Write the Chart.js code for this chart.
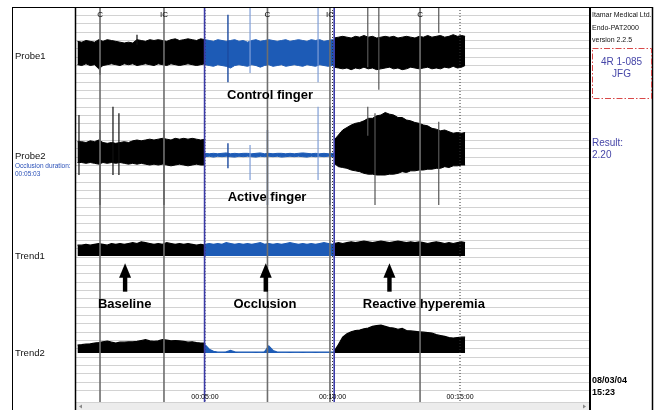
<!DOCTYPE html>
<html>
<head>
<meta charset="utf-8">
<script src="https://cdn.jsdelivr.net/npm/chart.js@4.4.1/dist/chart.umd.min.js"></script>
<style>
  html, body { margin: 0; padding: 0; background: #fff; }
  canvas { display: block; }
</style>
</head>
<body>
<canvas id="pat" width="655" height="410"></canvas>
<script>
// sample times in seconds for the three phases of the test
const baseT = [0,10,20,30,40,50,60,70,80,90,100,110,120,130,140,150,160,170,180,190,200,210,220,230,240,250,260,270,280,290,300];
const occT = [300,310,320,330,340,350,360,370,380,390,400,410,420,430,440,450,460,470,480,490,500,510,520,530,540,550,560,570,580,590,600,604];
const postT = [604,614,624,634,644,654,664,674,684,694,704,714,724,734,744,754,764,774,784,794,804,814,824,834,844,854,864,874,884,894,904,912];

// signal envelopes, in grid divisions around each channel line
const probe1BaseHi = [1.4,1.3,1.5,1.4,1.3,1.6,1.4,1.6,1.5,1.4,1.3,1.2,1.3,1.2,1.6,1.5,1.4,1.6,1.5,1.6,1.5,1.4,1.6,1.7,1.5,1.6,1.7,1.6,1.5,1.7,1.6];
const probe1BaseLo = [-1.4,-1.5,-1.3,-1.5,-1.4,-1.9,-1.5,-1.4,-1.3,-1.4,-1.5,-1.3,-1.4,-1.3,-1.5,-1.4,-1.3,-1.4,-1.5,-1.3,-1.4,-1.5,-1.3,-1.4,-1.5,-1.4,-1.3,-1.4,-1.5,-1.4,-1.3];
const probe1OccHi = [1.6,1.5,1.4,1.6,1.5,1.4,1.5,1.6,1.4,1.5,1.3,1.5,1.6,1.4,1.5,1.6,1.5,1.4,1.5,1.6,1.4,1.5,1.6,1.5,1.4,1.6,1.5,1.6,1.4,1.5,1.6,1.5];
const probe1OccLo = [-1.4,-1.5,-1.6,-1.4,-1.5,-1.6,-1.8,-1.5,-1.4,-1.5,-1.6,-1.4,-1.5,-1.7,-1.5,-1.4,-1.6,-1.5,-1.4,-1.6,-1.5,-1.4,-1.5,-1.6,-1.4,-1.5,-1.6,-1.4,-1.5,-1.6,-1.5,-1.6];
const probe1PostHi = [1.8,1.9,2.0,1.9,1.8,2.0,1.9,2.1,1.9,2.0,1.8,1.9,2.0,1.9,2.0,1.8,1.9,2.0,1.9,1.8,2.0,1.9,2.1,1.9,2.0,2.1,1.9,2.0,2.2,2.0,2.1,2.0];
const probe1PostLo = [-1.7,-1.8,-1.9,-1.8,-2.0,-1.8,-1.9,-1.7,-1.9,-1.8,-2.0,-1.9,-1.8,-1.7,-1.9,-1.8,-2.0,-1.9,-1.7,-1.8,-1.9,-1.8,-1.7,-1.9,-1.8,-1.9,-1.7,-1.8,-1.6,-1.8,-1.7,-1.5];

const probe2BaseHi = [1.3,1.3,1.2,1.4,1.3,1.5,1.2,1.1,1.2,1.1,1.2,1.3,1.2,1.4,1.5,1.4,1.5,1.6,1.5,1.6,1.7,1.6,1.5,1.7,1.6,1.7,1.6,1.7,1.6,1.5,1.6];
const probe2BaseLo = [-1.2,-1.2,-1.3,-1.2,-1.3,-1.4,-1.2,-1.3,-1.2,-1.3,-1.2,-1.3,-1.4,-1.3,-1.4,-1.3,-1.4,-1.5,-1.4,-1.5,-1.4,-1.5,-1.6,-1.5,-1.4,-1.5,-1.6,-1.5,-1.4,-1.5,-1.5];
const probe2OccHi = [-0.1,-0.15,-0.1,-0.15,-0.1,-0.05,-0.15,-0.1,-0.15,-0.1,-0.1,-0.15,-0.1,-0.05,-0.15,-0.1,-0.15,-0.1,-0.1,-0.15,-0.1,-0.15,-0.1,-0.05,-0.1,-0.15,-0.1,-0.15,-0.1,-0.15,-0.1,-0.1];
const probe2OccLo = [-0.5,-0.45,-0.55,-0.45,-0.5,-0.45,-0.5,-0.55,-0.45,-0.5,-0.45,-0.5,-0.55,-0.45,-0.5,-0.45,-0.5,-0.45,-0.55,-0.5,-0.45,-0.5,-0.45,-0.5,-0.55,-0.45,-0.5,-0.45,-0.5,-0.45,-0.5,-0.45];
const probe2PostHi = [1.5,2.1,2.7,3.0,3.3,3.5,3.6,3.8,4.1,4.1,4.4,4.5,4.8,4.6,4.5,4.2,4.2,3.9,3.8,3.6,3.5,3.3,3.2,2.9,2.8,2.6,2.7,2.5,2.3,2.4,2.3,2.4];
const probe2PostLo = [-1.3,-1.7,-1.8,-1.9,-2.1,-2.2,-2.3,-2.5,-2.6,-2.6,-2.7,-2.7,-2.7,-2.6,-2.6,-2.5,-2.3,-2.4,-2.2,-2.2,-2.1,-2.1,-2.0,-2.0,-1.9,-1.9,-1.7,-1.8,-1.6,-1.6,-1.5,-1.5];

const trend1Base = [1.3,1.3,1.4,1.3,1.4,1.5,1.4,1.3,1.5,1.4,1.5,1.4,1.5,1.6,1.5,1.7,1.6,1.5,1.4,1.5,1.4,1.6,1.5,1.4,1.5,1.4,1.5,1.4,1.3,1.4,1.3];
const trend1Occ = [1.4,1.5,1.4,1.5,1.4,1.6,1.5,1.4,1.5,1.4,1.5,1.4,1.5,1.6,1.4,1.5,1.4,1.5,1.4,1.5,1.6,1.5,1.4,1.5,1.4,1.5,1.4,1.5,1.6,1.5,1.4,1.5];
const trend1Post = [1.5,1.6,1.5,1.6,1.7,1.6,1.7,1.8,1.7,1.6,1.7,1.8,1.7,1.6,1.7,1.8,1.7,1.6,1.7,1.6,1.7,1.6,1.5,1.6,1.7,1.6,1.5,1.6,1.5,1.6,1.7,1.6];

const trend2Base = [0.96,1.0,1.08,1.1,1.2,1.25,1.35,1.44,1.3,1.2,1.3,1.3,1.35,1.35,1.4,1.5,1.6,1.45,1.4,1.45,1.6,1.55,1.45,1.5,1.45,1.4,1.3,1.35,1.25,1.2,1.2];
const trend2Occ = [1.0,0.45,0.2,0.1,0.1,0.15,0.3,0.15,0.1,0.1,0.1,0.1,0.12,0.1,0.15,0.85,0.3,0.12,0.1,0.1,0.12,0.1,0.1,0.12,0.1,0.1,0.12,0.1,0.1,0.1,0.1,0.1];
const trend2Post = [0.2,1.0,1.9,2.3,2.55,2.7,2.75,2.9,3.0,3.2,3.3,3.35,3.2,3.05,3.0,2.85,2.95,2.7,2.65,2.6,2.55,2.5,2.45,2.4,2.2,2.1,2.0,1.85,1.8,1.85,1.9,1.9];

// artefact spikes: time, channel, top and bottom (divisions around the channel line)
const baseSpikeT = [3.5, 53, 53, 83.5, 97.5, 140, 203.5];
const baseSpikeCh = ['Probe2','Probe1','Probe2','Probe2','Probe2','Probe1','Probe2'];
const baseSpikeHi = [4.5, 1.6, 2.7, 5.5, 4.7, 2.2, 2.7];
const baseSpikeLo = [-2.7, -2.6, -6.3, -2.7, -2.7, 1.0, -6.3];

const occSpikeT = [354, 354, 447, 594];
const occSpikeCh = ['Probe1','Probe2','Probe2','Probe2'];
const occSpikeHi = [4.6, 1.1, 2.7, 5.5];
const occSpikeLo = [-3.5, -1.9, -6.3, -6.3];

const faintSpikeT = [406, 406, 566, 566];
const faintSpikeCh = ['Probe1','Probe2','Probe1','Probe2'];
const faintSpikeHi = [5.6, 0.9, 5.6, 5.5];
const faintSpikeLo = [-2.4, -3.3, -3.5, -3.3];

const postSpikeT = [683, 683, 700, 709, 850, 850];
const postSpikeCh = ['Probe1','Probe2','Probe2','Probe1','Probe1','Probe2'];
const postSpikeHi = [5.6, 5.5, 4.7, 5.6, 5.6, 3.7];
const postSpikeLo = [-1.7, 2.0, -6.3, -4.4, 2.4, -6.3];

// event markers, phase boundaries and time ticks
const markerT = [53, 203.5, 447, 594, 806];
const markerLabels = ['C', 'IC', 'C', 'IC', 'C'];
const occlusionT = [299, 604];
const tickT = [300, 600, 900];
const tickLabels = ['00:05:00', '00:10:00', '00:15:00'];

// channel lines on the strip (grid divisions from the bottom)
const channelNames = ['Probe1', 'Probe2', 'Trend1', 'Trend2'];
const channelLine = { Probe1: 41.48, Probe2: 29.54, Trend1: 17.12, Trend2: 5.48 };

const BLACK = '#000000';
const BLUE = '#1d5bb6';
const FONT = '"Liberation Sans", Arial, sans-serif';

function band(t, hi, lo, ch, color) {
    const b = channelLine[ch];
    return [
        { data: t.map((x, i) => ({ x, y: b + hi[i] })), borderColor: color, borderWidth: 1, fill: false, order: 5 },
        { data: t.map((x, i) => ({ x, y: b + lo[i] })), borderColor: color, borderWidth: 1, fill: '-1', backgroundColor: color, order: 5 }
    ];
}

function area(t, h, ch, color) {
    const b = channelLine[ch];
    return { data: t.map((x, i) => ({ x, y: b + h[i] })), borderColor: color, borderWidth: 1.2, fill: { value: b }, backgroundColor: color, order: 5 };
}

function spikes(t, chs, hi, lo, color, width) {
    const pts = [];
    t.forEach((x, i) => {
        const b = channelLine[chs[i]];
        pts.push({ x, y: b + hi[i] }, { x, y: b + lo[i] }, { x, y: null });
    });
    return { data: pts, borderColor: color, borderWidth: width, fill: false, spanGaps: false, order: 3 };
}

function fullLines(t, top, color, width, dash, order) {
    const pts = [];
    t.forEach(x => pts.push({ x, y: top }, { x, y: -0.4 }, { x, y: null }));
    return { data: pts, borderColor: color, borderWidth: width, borderDash: dash, fill: false, spanGaps: false, order };
}

const datasets = [
    ...band(baseT, probe1BaseHi, probe1BaseLo, 'Probe1', BLACK),
    ...band(occT, probe1OccHi, probe1OccLo, 'Probe1', BLUE),
    ...band(postT, probe1PostHi, probe1PostLo, 'Probe1', BLACK),
    ...band(baseT, probe2BaseHi, probe2BaseLo, 'Probe2', BLACK),
    ...band(occT, probe2OccHi, probe2OccLo, 'Probe2', BLUE),
    ...band(postT, probe2PostHi, probe2PostLo, 'Probe2', BLACK),
    area(baseT, trend1Base, 'Trend1', BLACK),
    area(occT, trend1Occ, 'Trend1', BLUE),
    area(postT, trend1Post, 'Trend1', BLACK),
    area(baseT, trend2Base, 'Trend2', BLACK),
    area(occT, trend2Occ, 'Trend2', BLUE),
    area(postT, trend2Post, 'Trend2', BLACK),
    spikes(baseSpikeT, baseSpikeCh, baseSpikeHi, baseSpikeLo, '#111111', 1.2),
    spikes(occSpikeT, occSpikeCh, occSpikeHi, occSpikeLo, '#1b4aa0', 1.4),
    spikes(faintSpikeT, faintSpikeCh, faintSpikeHi, faintSpikeLo, '#7f9ed8', 1.2),
    spikes(postSpikeT, postSpikeCh, postSpikeHi, postSpikeLo, '#555555', 1.2),
    fullLines(markerT, 46.9, '#6e6e6e', 1.6, [], 2),
    fullLines(tickT, 47, '#333333', 1, [1, 2], 1),
    fullLines(occlusionT, 47, '#3b3ba8', 1.6, [], 0)
];

const notes = [
    { text: 'Control finger', t: 453, v: 36.38 },
    { text: 'Active finger', t: 446, v: 24.2 },
    { text: 'Baseline', t: 111, v: 11.36 },
    { text: 'Occlusion', t: 441, v: 11.3 },
    { text: 'Reactive hyperemia', t: 815, v: 11.36 }
];
const arrowT = [112, 443, 734];

const decor = {
    id: 'decor',
    afterDraw(chart) {
        const { ctx, scales: { x, y } } = chart;
        const seg = (x1, y1, x2, y2) => { ctx.beginPath(); ctx.moveTo(x1, y1); ctx.lineTo(x2, y2); ctx.stroke(); };
        ctx.save();

        // scroll bar strip
        ctx.fillStyle = '#ececec';
        ctx.fillRect(76, 403, 513, 7);
        ctx.fillStyle = '#888';
        ctx.beginPath(); ctx.moveTo(79, 406.5); ctx.lineTo(82, 404.5); ctx.lineTo(82, 408.5); ctx.fill();
        ctx.beginPath(); ctx.moveTo(586, 406.5); ctx.lineTo(583, 404.5); ctx.lineTo(583, 408.5); ctx.fill();

        // frame
        ctx.strokeStyle = '#000';
        ctx.lineWidth = 1;
        seg(12, 7.5, 653, 7.5);
        seg(12.5, 7, 12.5, 410);
        ctx.lineWidth = 1.5;
        seg(652.5, 7, 652.5, 410);
        seg(75.5, 7, 75.5, 410);
        ctx.lineWidth = 2;
        seg(590, 7, 590, 410);

        // marker letters
        ctx.fillStyle = '#000';
        ctx.font = '8px ' + FONT;
        ctx.textAlign = 'center';
        ctx.textBaseline = 'middle';
        markerT.forEach((t, i) => ctx.fillText(markerLabels[i], x.getPixelForValue(t), 14.5));

        // time ticks
        ctx.font = '7px ' + FONT;
        tickT.forEach((t, i) => ctx.fillText(tickLabels[i], x.getPixelForValue(t), 397.5));

        // annotations
        ctx.font = 'bold 13px ' + FONT;
        notes.forEach(n => ctx.fillText(n.text, x.getPixelForValue(n.t), y.getPixelForValue(n.v)));

        ctx.fillStyle = '#000';
        arrowT.forEach(t => {
            const cx = x.getPixelForValue(t);
            const tip = y.getPixelForValue(16.24), base = y.getPixelForValue(14.5), tail = y.getPixelForValue(12.84);
            ctx.fillRect(cx - 2.2, base - 1, 4.4, tail - base + 1);
            ctx.beginPath(); ctx.moveTo(cx, tip); ctx.lineTo(cx - 6, base); ctx.lineTo(cx + 6, base); ctx.closePath(); ctx.fill();
        });

        // channel names on the left
        ctx.textAlign = 'left';
        ctx.font = '9.5px ' + FONT;
        ctx.fillStyle = '#111';
        const nameShift = { Probe1: 0.45, Probe2: 0.45, Trend1: 0, Trend2: 0 };
        channelNames.forEach(c => ctx.fillText(c, 15, y.getPixelForValue(channelLine[c] - nameShift[c])));
        ctx.font = '6.5px ' + FONT;
        ctx.fillStyle = '#2a50b8';
        ctx.fillText('Occlusion duration:', 15, 166.5);
        ctx.fillText('00:05:03', 15, 174.5);

        // right side panel
        ctx.fillStyle = '#111';
        ctx.font = '7px ' + FONT;
        ctx.fillText('Itamar Medical Ltd.', 592, 15.5);
        ctx.fillText('Endo-PAT2000', 592, 28);
        ctx.fillText('version 2.2.5', 592, 40.5);

        ctx.strokeStyle = '#d94848';
        ctx.lineWidth = 1;
        ctx.setLineDash([6, 2, 1.5, 2]);
        ctx.strokeRect(592.5, 48.5, 59, 50);
        ctx.setLineDash([]);

        ctx.fillStyle = '#4646a8';
        ctx.font = '10px ' + FONT;
        ctx.textAlign = 'center';
        ctx.fillText('4R 1-085', 621.5, 62);
        ctx.fillText('JFG', 621.5, 74);
        ctx.textAlign = 'left';
        ctx.fillText('Result:', 592, 143);
        ctx.fillText('2.20', 592, 155.5);

        ctx.fillStyle = '#000';
        ctx.font = 'bold 9px ' + FONT;
        ctx.fillText('08/03/04', 592, 380.5);
        ctx.fillText('15:23', 592, 393);
        ctx.restore();
    }
};

new Chart(document.getElementById('pat'), {
    type: 'line',
    data: { datasets },
    options: {
        responsive: false,
        animation: false,
        devicePixelRatio: 1,
        layout: { padding: { left: 76, right: 66, top: 7, bottom: 8 } },
        elements: { point: { radius: 0 }, line: { tension: 0 } },
        plugins: { legend: { display: false }, tooltip: { enabled: false } },
        scales: {
            x: { type: 'linear', min: -3.5, max: 1203.5, display: false },
            y: {
                min: -0.4, max: 47,
                ticks: { display: false, stepSize: 1 },
                grid: { color: '#d2d2d2', lineWidth: 1, drawTicks: false },
                border: { display: false },
                afterFit(s) { s.width = 0; }
            }
        }
    },
    plugins: [decor]
});
</script>
</body>
</html>
